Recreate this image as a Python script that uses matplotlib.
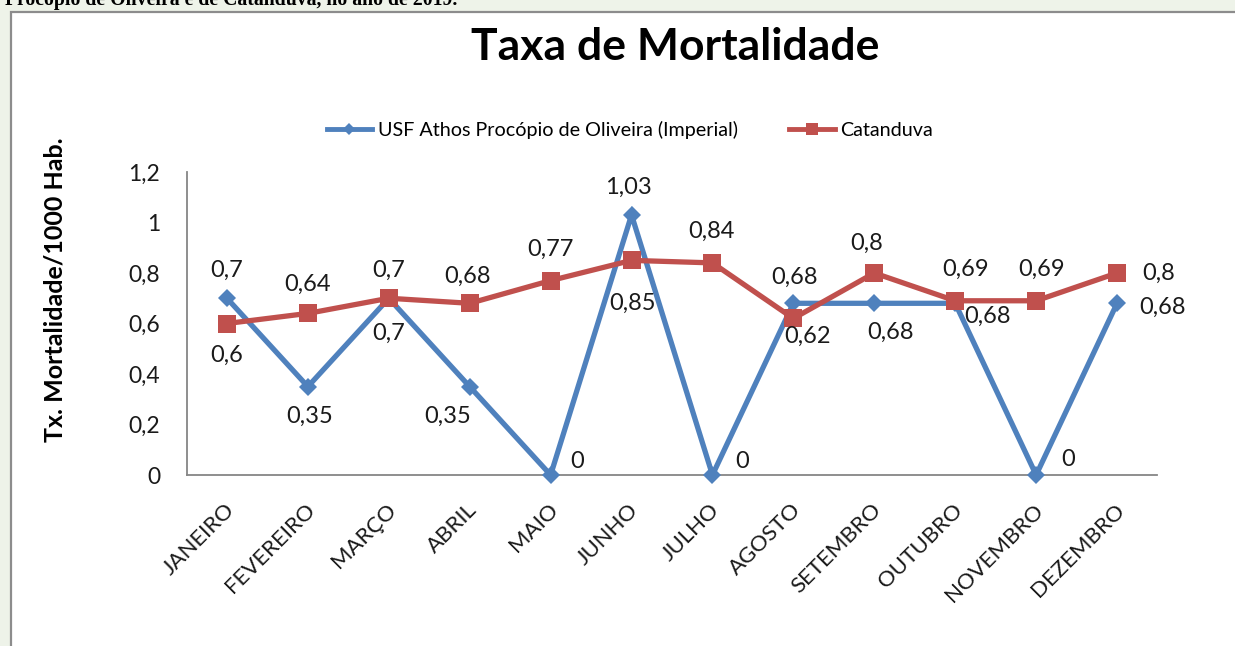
import matplotlib
matplotlib.use("Agg")
import matplotlib.pyplot as plt
import matplotlib.transforms as mtransforms
from matplotlib.lines import Line2D
from matplotlib.patches import Rectangle

# Data
meses = ['JANEIRO', 'FEVEREIRO', 'MARÇO', 'ABRIL', 'MAIO', 'JUNHO',
         'JULHO', 'AGOSTO', 'SETEMBRO', 'OUTUBRO', 'NOVEMBRO', 'DEZEMBRO']
usf_athos = [0.7, 0.35, 0.7, 0.35, 0, 1.03, 0, 0.68, 0.68, 0.68, 0, 0.68]
catanduva = [0.6, 0.64, 0.7, 0.68, 0.77, 0.85, 0.84, 0.62, 0.8, 0.69, 0.69, 0.8]
y_ticks = [0, 0.2, 0.4, 0.6, 0.8, 1.0, 1.2]
y_tick_labels = ['0', '0,2', '0,4', '0,6', '0,8', '1', '1,2']

serie_usf = 'USF Athos Procópio de Oliveira (Imperial)'
serie_cat = 'Catanduva'
titulo = 'Taxa de Mortalidade'
y_titulo = 'Tx. Mortalidade/1000 Hab.'
cabecalho = 'Procópio de Oliveira e de Catanduva, no ano de 2019.'

# Label offsets (pixels) for each data label, as placed in the original
off_usf = [(0, 28), (2, -30), (0, -35), (-22, -30), (27, 13), (-3, 28),
           (30, 14), (1, 26), (16, -29), (32, -13), (32, 15), (45, -4)]
off_cat = [(0, -32), (0, 29), (0, 28), (-2, 27), (0, 31), (1, -43),
           (-1, 32), (14, -18), (-8, 30), (10, 31), (5, 31), (42, 0)]

# Colours
azul = '#4F81BD'
vermelho = '#C0504D'
cinza = '#868686'
fundo = '#EEF3E9'

plt.rcParams['font.family'] = ['Lato', 'DejaVu Sans']

W, H = 1235, 646
fig = plt.figure(figsize=(W / 100, H / 100), dpi=100, facecolor=fundo)

# White chart area with grey frame (behind everything)
fig.patches.append(Rectangle((10.5 / W, -0.05), 1.1, 1 - 12.5 / H + 0.05,
                             transform=fig.transFigure, facecolor='white',
                             edgecolor='#8C8C8C', linewidth=1.6, zorder=-10))

# Cut-off text above the chart
fig.text(5 / W, 1 - 5 / H, cabecalho, family='Liberation Serif',
         fontweight='bold', fontsize=14.2, va='baseline', ha='left')

ax = fig.add_axes([186.5 / W, 1 - 475 / H, 971 / W, 303 / H])
ax.set_facecolor('none')

x = list(range(len(meses)))
ax.plot(x, usf_athos, color=azul, lw=3.8, marker='D', markersize=9.5,
        markeredgewidth=0, solid_joinstyle='miter', clip_on=False, zorder=3)
ax.plot(x, catanduva, color=vermelho, lw=3.8, marker='s', markersize=13,
        markeredgewidth=0, solid_joinstyle='miter', clip_on=False, zorder=4)

# Data labels
for i in x:
    for v, off in ((usf_athos[i], off_usf[i]), (catanduva[i], off_cat[i])):
        ax.annotate(f"{v:g}".replace('.', ','), (i, v), xytext=off,
                    textcoords='offset pixels', ha='center', va='center',
                    fontsize=17, color='#1a1a1a', zorder=5)

ax.set_xlim(-0.5, len(meses) - 0.5)
ax.set_ylim(0, 1.2)
ax.set_yticks(y_ticks)
ax.set_yticklabels(y_tick_labels)
ax.set_xticks(x)
ax.set_xticklabels(meses, rotation=45, ha='right', rotation_mode='anchor')
ax.tick_params(axis='y', length=0, pad=19, labelsize=16.5, labelcolor='#1a1a1a')
ax.tick_params(axis='x', length=0, pad=18, labelsize=16, labelcolor='#1a1a1a')

# nudge month labels a little to the left, as in the original
shift = mtransforms.ScaledTranslation(-3 / 100, 0, fig.dpi_scale_trans)
for lbl in ax.get_xticklabels():
    lbl.set_transform(lbl.get_transform() + shift)

for s in ['top', 'right']:
    ax.spines[s].set_visible(False)
for s in ['left', 'bottom']:
    ax.spines[s].set_color(cinza)
    ax.spines[s].set_linewidth(1.3)

ax.set_ylabel(y_titulo, fontweight='bold', fontsize=18)
ax.yaxis.set_label_coords((66 - 186.5) / 971, (475 - 290) / 303)

fig.text(675 / W, 1 - 47 / H, titulo, fontweight='bold', fontsize=32,
         ha='center', va='center')

# Legend with smaller markers as in the original
h1 = Line2D([], [], color=azul, lw=3.5, marker='D', markersize=6, markeredgewidth=0)
h2 = Line2D([], [], color=vermelho, lw=3.5, marker='s', markersize=8, markeredgewidth=0)
fig.legend([h1, h2], [serie_usf, serie_cat], ncol=2, loc='center',
           bbox_to_anchor=(630 / W, 1 - 130 / H), frameon=False, fontsize=14.2,
           handlelength=2.3, handletextpad=0.3, columnspacing=2.6)

fig.savefig('out.png', dpi=100, facecolor=fundo)
